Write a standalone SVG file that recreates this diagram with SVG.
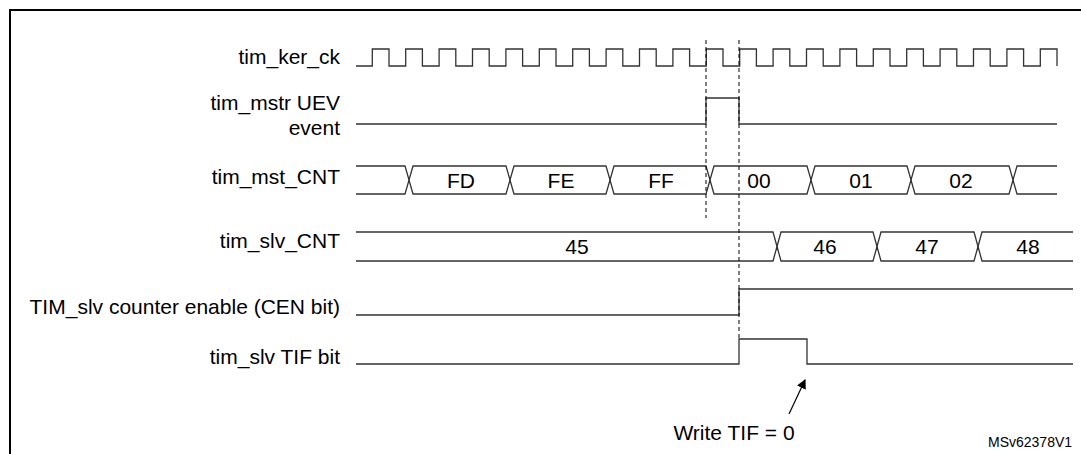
<svg xmlns="http://www.w3.org/2000/svg" width="1081" height="454" viewBox="0 0 1081 454">
<style>
.l{font-family:"Liberation Sans",Arial,sans-serif;font-size:21px;fill:#000;text-anchor:end}
.v{font-family:"Liberation Sans",Arial,sans-serif;font-size:21px;fill:#000;text-anchor:middle}
.w{fill:none;stroke:#333;stroke-width:1.3}
.d{fill:none;stroke:#000;stroke-width:1;stroke-dasharray:4,3}
</style>
<defs><marker id="a" markerWidth="8" markerHeight="8" refX="7" refY="4" orient="auto"><path d="M0,0L8,4L0,8z" fill="#000"/></marker></defs>
<rect x="10" y="10" width="1090" height="460" fill="#fff" stroke="#000" stroke-width="2"/>
<g id="labels">
<text class="l" x="340" y="64">tim_ker_ck</text>
<text class="l" x="340" y="110">tim_mstr UEV</text>
<text class="l" x="340" y="135">event</text>
<text class="l" x="340" y="184">tim_mst_CNT</text>
<text class="l" x="340" y="248">tim_slv_CNT</text>
<text class="l" x="340" y="314">TIM_slv counter enable (CEN bit)</text>
<text class="l" x="340" y="364">tim_slv TIF bit</text>
</g>
<g id="clk"><path class="w" d="M356,66H372.3V49H389V66H405.7V49H422.4V66H439.1V49H455.8V66H472.5V49H489.2V66H505.9V49H522.6V66H539.3V49H556V66H572.7V49H589.4V66H606.1V49H622.8V66H639.5V49H656.2V66H672.9V49H689.6V66H706.3V49H723V66H739.7V49H756.4V66H773.1V49H789.8V66H806.5V49H823.2V66H839.9V49H856.6V66H873.3V49H890V66H906.7V49H923.4V66H940.1V49H956.8V66H973.5V49H990.2V66H1006.9V49H1023.6V66H1040.3V49H1057V66"/></g>
<g id="uev"><path class="w" d="M356,124H706V98H739V124H1057"/></g>
<g id="mst">
<path class="w" d="M356,166H405L409,180L413,166H506L510,180L514,166H606L610,180L614,166H706L710,180L714,166H807L811,180L815,166H907L911,180L915,166H1009L1013,180L1017,166H1057"/>
<path class="w" d="M356,194H405L409,180L413,194H506L510,180L514,194H606L610,180L614,194H706L710,180L714,194H807L811,180L815,194H907L911,180L915,194H1009L1013,180L1017,194H1057"/>
<text class="v" x="461" y="188">FD</text><text class="v" x="561" y="188">FE</text><text class="v" x="661" y="188">FF</text>
<text class="v" x="759" y="188">00</text><text class="v" x="861" y="188">01</text><text class="v" x="961" y="188">02</text>
</g>
<g id="slv">
<path class="w" d="M356,232H773L777,246.5L781,232H873L877,246.5L881,232H974L978,246.5L982,232H1073"/>
<path class="w" d="M356,261H773L777,246.5L781,261H873L877,246.5L881,261H974L978,246.5L982,261H1073"/>
<text class="v" x="577" y="254">45</text><text class="v" x="825" y="254">46</text><text class="v" x="927" y="254">47</text><text class="v" x="1028" y="254">48</text>
</g>
<g id="cen"><path class="w" d="M356,315H739V289H1073"/></g>
<g id="tif"><path class="w" d="M356,364H739V339H807V364H1073"/></g>
<g id="connectors">
<path class="d" d="M706,40V218"/>
<path class="d" d="M739,40V340"/>
<path d="M789,414L805,380" stroke="#000" stroke-width="1.2" marker-end="url(#a)"/>
</g>
<text class="v" x="734" y="440">Write TIF = 0</text>
<text x="988" y="447" font-family="'Liberation Sans',Arial,sans-serif" font-size="14">MSv62378V1</text>
</svg>
